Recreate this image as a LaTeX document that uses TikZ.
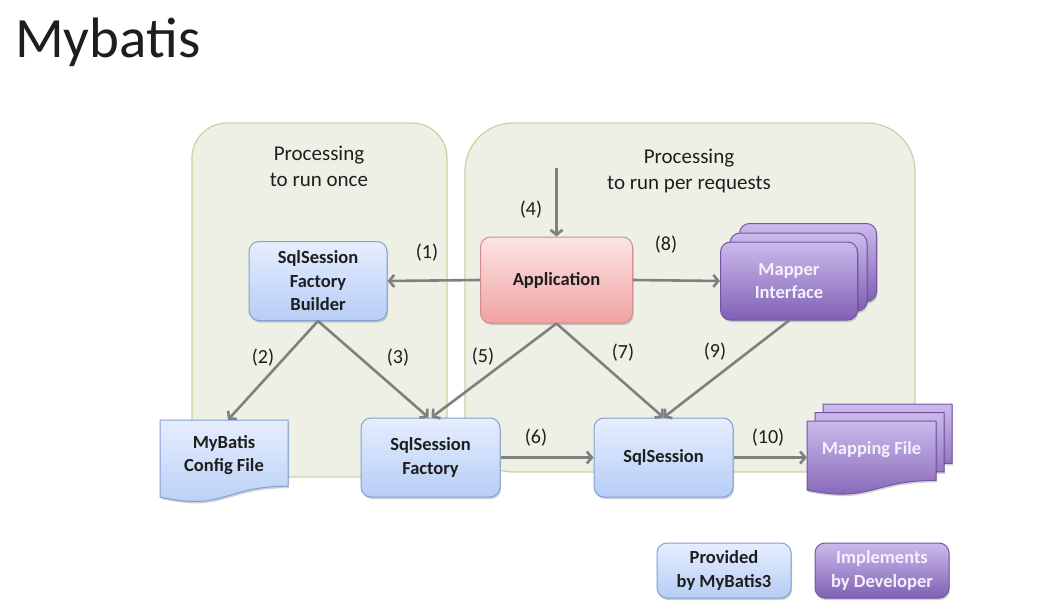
\documentclass[tikz,border=0pt]{standalone}
\usepackage{fontspec}
\setmainfont{Carlito}
\usetikzlibrary{arrows.meta,shadows}

\definecolor{panelfill}{RGB}{238,240,230}
\definecolor{paneldraw}{RGB}{200,212,160}
\definecolor{bluetop}{RGB}{230,238,255}
\definecolor{bluebot}{RGB}{182,205,245}
\definecolor{blueline}{RGB}{130,160,210}
\definecolor{pinktop}{RGB}{252,228,228}
\definecolor{pinkbot}{RGB}{240,162,162}
\definecolor{pinkline}{RGB}{210,140,140}
\definecolor{purptop}{RGB}{204,186,236}
\definecolor{purpbot}{RGB}{128,96,180}
\definecolor{purpline}{RGB}{115,85,165}
\definecolor{arrowgray}{RGB}{128,128,128}
\definecolor{txtdark}{RGB}{30,30,30}
\definecolor{txtlight}{RGB}{244,240,252}

\newcommand{\docshp}[5]{% style, x0, y0, x1, h
  \path[#1] (#2,#3) -- (#4,#3) -- (#4,{#3+0.802*#5})
    .. controls ({(#2+#4)/2},{#3+0.802*#5}) and ({(#2+#4)/2},{#3+1.108*#5}) .. (#2,{#3+0.934*#5}) -- cycle;}

\tikzset{
  panel/.style={fill=panelfill, draw=paneldraw, line width=1.2pt},
  nodefont/.style={font=\fontsize{18.5}{23.5}\selectfont\bfseries},
  shad/.style={drop shadow={shadow xshift=1pt,shadow yshift=-2pt,opacity=0.18,fill=black}},
  boxbase/.style={rectangle, rounded corners=10pt, line width=1pt, align=center, inner sep=0pt, nodefont},
  bluebox/.style={boxbase, top color=bluetop, bottom color=bluebot, draw=blueline, text=txtdark, shad},
  pinkbox/.style={boxbase, top color=pinktop, bottom color=pinkbot, draw=pinkline, text=txtdark, shad},
  purpbox/.style={boxbase, top color=purptop, bottom color=purpbot, draw=purpline, text=txtlight, shad},
  bluedoc/.style={top color=bluetop, bottom color=bluebot, draw=blueline, line width=1pt, shad},
  purpdoc/.style={top color=purptop, bottom color=purpbot, draw=purpline, line width=1pt, shad},
  doctext/.style={align=center, inner sep=0pt, nodefont},
  arr/.style={draw=arrowgray, line width=2.6pt, -{Straight Barb[length=5pt,width=12pt]}},
  lbl/.style={font=\fontsize{20}{24}\selectfont, text=txtdark},
  plbl/.style={font=\fontsize{21}{26}\selectfont, text=txtdark, align=center},
}

\begin{document}
\begin{tikzpicture}[x=1pt,y=-1pt]
\useasboundingbox[fill=white] (0,0) rectangle (1044,615);

% title
\node[anchor=base west, inner sep=0pt, font=\fontsize{57}{62}\selectfont, text=txtdark] (title) at (15,58) {Mybatis};

% panels
\draw[panel, rounded corners=35pt] (192,123) rectangle (447,477);
\draw[panel, rounded corners=48pt] (465,123) rectangle (915,472);
\node[plbl] (p1) at (319,166) {Processing\\to run once};
\node[plbl] (p2) at (689,171) {Processing\\to run per requests};

% nodes
\node[bluebox, minimum width=138pt, minimum height=79pt] (builder) at (318,281) {SqlSession\\Factory\\Builder};
\node[pinkbox, minimum width=152pt, minimum height=86pt] (app) at (556.5,280) {Application};

\node[purpbox, minimum width=137pt, minimum height=78pt] (mapb2) at (808,262.5) {};
\node[purpbox, minimum width=137pt, minimum height=78pt] (mapb1) at (798.5,272) {};
\node[purpbox, minimum width=137pt, minimum height=78pt] (mapper) at (789,281) {Mapper\\Interface};

\docshp{bluedoc}{160}{420}{288}{82.5}
\node[doctext, text=txtdark, minimum width=128pt, minimum height=70pt] (cfg) at (224,455) {MyBatis\\Config File};

\node[bluebox, minimum width=139pt, minimum height=79pt] (factory) at (430.5,457.5) {SqlSession\\Factory};
\node[bluebox, minimum width=139pt, minimum height=79pt] (session) at (663.5,457.5) {SqlSession};

\docshp{purpdoc}{823}{404}{952}{74}
\docshp{purpdoc}{815}{412.5}{944}{74}
\docshp{purpdoc}{807}{421}{936}{74}
\node[doctext, text=txtlight, minimum width=129pt, minimum height=58pt] (mf) at (871.5,450) {Mapping File};

% legend
\node[bluebox, minimum width=134pt, minimum height=55pt] (leg1) at (724,570.5) {Provided\\by MyBatis3};
\node[purpbox, minimum width=134pt, minimum height=55pt] (leg2) at (882,570.5) {Implements\\by Developer};

% connectors
\coordinate (req) at (556.5,168);
\draw[arr] (app.west) -- (builder.east);
\draw[arr] (builder.south) -- ([xshift=4pt]cfg.north);
\draw[arr] (builder.south) -- ([xshift=-2pt]factory.north);
\draw[arr] (req) -- (app.north);
\draw[arr] (app.south) -- ([xshift=1pt]factory.north);
\draw[arr] (factory.east) -- (session.west);
\draw[arr] (app.south) -- (session.north);
\draw[arr] (app.east) -- (mapper.west);
\draw[arr] (mapper.south) -- (session.north);
\draw[arr] (session.east) -- (session.east -| mf.west);

% labels
\node[lbl] (l1) at (427,253) {(1)};
\node[lbl] (l2) at (263,358) {(2)};
\node[lbl] (l3) at (398,358) {(3)};
\node[lbl] (l4) at (531,210) {(4)};
\node[lbl] (l5) at (483,357) {(5)};
\node[lbl] (l6) at (536,438) {(6)};
\node[lbl] (l7) at (623,353) {(7)};
\node[lbl] (l8) at (666,245) {(8)};
\node[lbl] (l9) at (715,352) {(9)};
\node[lbl] (l10) at (768,438) {(10)};
\end{tikzpicture}
\end{document}
